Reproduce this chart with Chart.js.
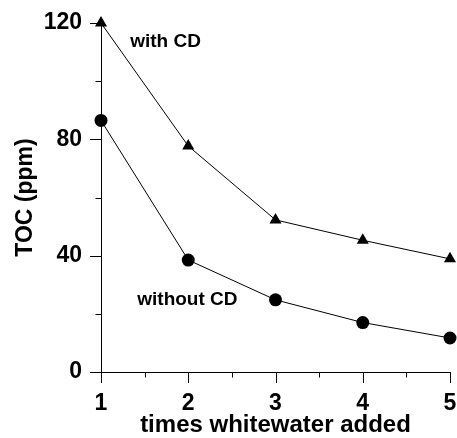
<!DOCTYPE html>
<html>
<head>
<meta charset="utf-8">
<script src="https://cdn.jsdelivr.net/npm/chart.js@4.4.0/dist/chart.umd.min.js"></script>
<style>
  body { margin: 0; background: #fff; }
</style>
</head>
<body>
<canvas id="toc" width="457" height="438"></canvas>
<script>
// times whitewater added
const timesAdded = [1, 2, 3, 4, 5];
// TOC (ppm)
const withCD = [120, 77.7, 52.3, 45.3, 38.9];
const withoutCD = [86.5, 38.5, 24.8, 17.0, 11.7];
const yMajorTicks = [0, 40, 80, 120];
const yMinorTicks = [20, 60, 100];
const xMinorTicks = [1.5, 2.5, 3.5, 4.5];

const FONT = "'Liberation Sans', Arial, Helvetica, sans-serif";

// tick marks (long major, short minor) + the two curve labels
const extras = {
  id: 'extras',
  afterDraw(chart) {
    const c = chart.ctx;
    const xs = chart.scales.x, ys = chart.scales.y;
    const area = chart.chartArea;
    c.save();
    c.strokeStyle = '#000';
    c.lineWidth = 1;
    c.beginPath();
    yMajorTicks.forEach(v => {
      const py = Math.round(ys.getPixelForValue(v)) + 0.5;
      c.moveTo(area.left - 11, py);
      c.lineTo(area.left, py);
    });
    yMinorTicks.forEach(v => {
      const py = Math.round(ys.getPixelForValue(v)) + 0.5;
      c.moveTo(area.left - 5.5, py);
      c.lineTo(area.left, py);
    });
    timesAdded.forEach(v => {
      const px = Math.round(xs.getPixelForValue(v)) + 0.5;
      c.moveTo(px, area.bottom);
      c.lineTo(px, area.bottom + 11);
    });
    xMinorTicks.forEach(v => {
      const px = Math.round(xs.getPixelForValue(v)) + 0.5;
      c.moveTo(px, area.bottom);
      c.lineTo(px, area.bottom + 5.5);
    });
    c.stroke();

    c.fillStyle = '#000';
    c.font = 'bold 19px ' + FONT;
    c.textAlign = 'center';
    c.textBaseline = 'middle';
    c.fillText('with CD', xs.getPixelForValue(1.74), ys.getPixelForValue(113.5));
    c.fillText('without CD', xs.getPixelForValue(1.99), ys.getPixelForValue(24.8));
    c.restore();
  }
};

new Chart(document.getElementById('toc'), {
  type: 'line',
  data: {
    datasets: [
      {
        label: 'with CD',
        data: timesAdded.map((t, i) => ({ x: t, y: withCD[i] })),
        borderColor: '#000',
        backgroundColor: '#000',
        borderWidth: 1,
        pointStyle: 'triangle',
        pointRadius: 7,
        pointBorderWidth: 0,
        clip: false
      },
      {
        label: 'without CD',
        data: timesAdded.map((t, i) => ({ x: t, y: withoutCD[i] })),
        borderColor: '#000',
        backgroundColor: '#000',
        borderWidth: 1,
        pointStyle: 'circle',
        pointRadius: 6.5,
        pointBorderWidth: 0,
        clip: false
      }
    ]
  },
  options: {
    responsive: false,
    animation: false,
    layout: { padding: { top: 23, right: 7, left: 0, bottom: 0 } },
    plugins: {
      legend: { display: false },
      tooltip: { enabled: false }
    },
    scales: {
      x: {
        type: 'linear',
        min: 1,
        max: 5,
        afterFit(s) { s.height = 66; s.paddingLeft = 0; s.paddingRight = 0; },
        ticks: {
          stepSize: 1,
          color: '#000',
          padding: 7,
          font: { family: FONT, size: 23, weight: 'bold' }
        },
        grid: { drawOnChartArea: false, tickLength: 11, color: 'rgba(0,0,0,0)' },
        border: { color: '#000', width: 1 },
        title: {
          display: true,
          text: 'times whitewater added',
          color: '#000',
          padding: { top: 0, bottom: -2 },
          font: { family: FONT, size: 24, weight: 'bold' }
        }
      },
      y: {
        min: 0,
        max: 120,
        afterFit(s) { s.width = 101; s.paddingTop = 0; s.paddingBottom = 0; },
        afterBuildTicks(s) { s.ticks = yMajorTicks.map(v => ({ value: v })); },
        ticks: {
          color: '#000',
          padding: 8,
          font: { family: FONT, size: 23, weight: 'bold' }
        },
        grid: { drawOnChartArea: false, tickLength: 11, color: 'rgba(0,0,0,0)' },
        border: { color: '#000', width: 1 },
        title: {
          display: true,
          text: 'TOC (ppm)',
          color: '#000',
          padding: { top: 12, bottom: 0 },
          font: { family: FONT, size: 23, weight: 'bold' }
        }
      }
    }
  },
  plugins: [extras]
});
</script>
</body>
</html>
